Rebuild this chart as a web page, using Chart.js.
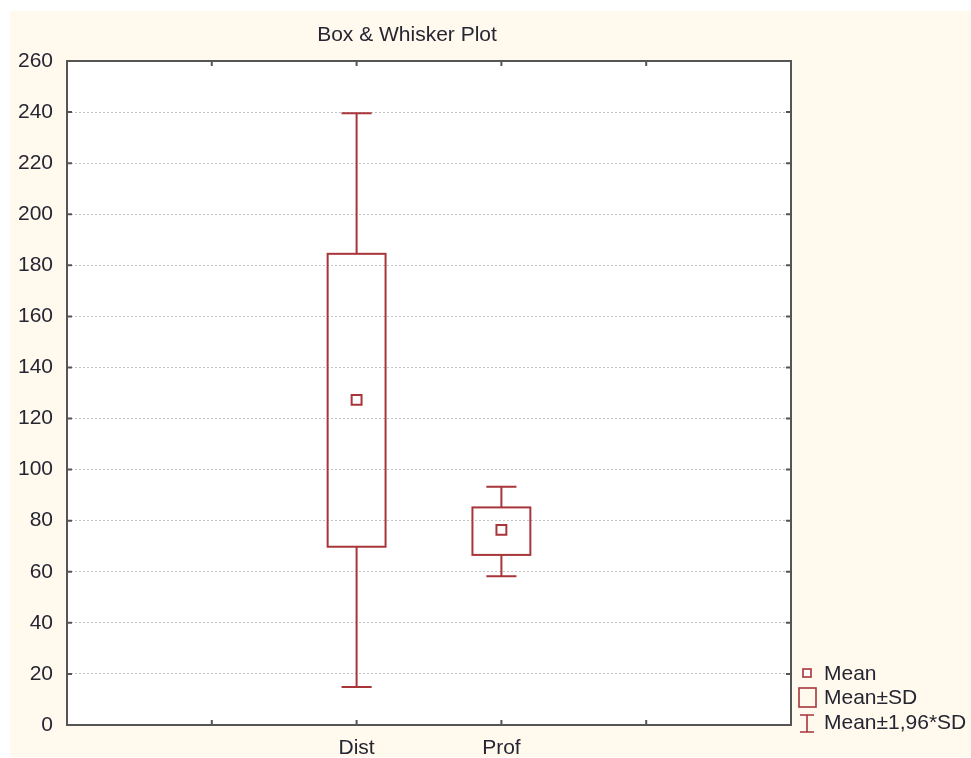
<!DOCTYPE html>
<html>
<head>
<meta charset="utf-8">
<script src="https://cdn.jsdelivr.net/npm/chart.js@4.4.1/dist/chart.umd.min.js"></script>
<style>
  html, body { margin: 0; padding: 0; background: #ffffff; }
  #wrap { width: 971px; height: 758px; position: relative; }
</style>
</head>
<body>
<div id="wrap"><canvas id="c" width="971" height="758"></canvas></div>
<script>
// ---- Data ----
const categories = ["Dist", "Prof"];
const categoryPositions = [2, 3];
const means = [127.3, 76.4];
const sdLow = [69.8, 66.6];
const sdHigh = [184.5, 85.2];
const ci196Low = [14.9, 58.2];
const ci196High = [239.5, 93.3];
const yTicks = [0, 20, 40, 60, 80, 100, 120, 140, 160, 180, 200, 220, 240, 260];
const xTickPositions = [1, 2, 3, 4];
const legendLabels = ["Mean", "Mean\u00B1SD", "Mean\u00B11,96*SD"];
const titleText = "Box & Whisker Plot";

const RED = "#a8353a";
const TEXT = "#262633";
const AXIS = "#555555";
const CREAM = "#fff9ee";
const FONT = "'Liberation Sans', Arial, sans-serif";
const FS = 21;

const xLabelFor = v => {
  const i = categoryPositions.indexOf(v);
  return i >= 0 ? categories[i] : "";
};

const decor = {
  id: "decor",
  beforeDraw(chart) {
    const ctx = chart.ctx;
    ctx.save();
    ctx.fillStyle = CREAM;
    ctx.fillRect(10, 11, chart.width - 10, chart.height - 12);
    const a = chart.chartArea;
    ctx.fillStyle = "#ffffff";
    ctx.fillRect(a.left, a.top, a.right - a.left, a.bottom - a.top);
    ctx.restore();
  },
  afterDatasetsDraw(chart) {
    const ctx = chart.ctx;
    const xs = chart.scales.x, ys = chart.scales.y;
    const a = chart.chartArea;
    ctx.save();
    // boxes and whiskers
    ctx.strokeStyle = RED;
    ctx.lineWidth = 2;
    const boxHalf = 0.2, capHalf = 0.104;
    for (let i = 0; i < categories.length; i++) {
      const c = categoryPositions[i];
      const xc = xs.getPixelForValue(c);
      const xl = xs.getPixelForValue(c - boxHalf), xr = xs.getPixelForValue(c + boxHalf);
      const cl = xs.getPixelForValue(c - capHalf), cr = xs.getPixelForValue(c + capHalf);
      const yTop = ys.getPixelForValue(sdHigh[i]), yBot = ys.getPixelForValue(sdLow[i]);
      const wTop = ys.getPixelForValue(ci196High[i]), wBot = ys.getPixelForValue(ci196Low[i]);
      ctx.strokeRect(xl, yTop, xr - xl, yBot - yTop);
      ctx.beginPath();
      ctx.moveTo(xc, yTop); ctx.lineTo(xc, wTop);
      ctx.moveTo(cl, wTop); ctx.lineTo(cr, wTop);
      ctx.moveTo(xc, yBot); ctx.lineTo(xc, wBot);
      ctx.moveTo(cl, wBot); ctx.lineTo(cr, wBot);
      ctx.stroke();
    }
    // mean markers on top
    ctx.fillStyle = "#ffffff";
    // frame
    ctx.strokeStyle = AXIS;
    ctx.lineWidth = 2;
    ctx.strokeRect(a.left, a.top, a.right - a.left, a.bottom - a.top);
    // inward ticks
    ctx.beginPath();
    const tl = 5;
    yTicks.forEach(v => {
      const y = ys.getPixelForValue(v);
      ctx.moveTo(a.left, y); ctx.lineTo(a.left + tl, y);
      ctx.moveTo(a.right, y); ctx.lineTo(a.right - tl, y);
    });
    xTickPositions.forEach(v => {
      const x = xs.getPixelForValue(v);
      ctx.moveTo(x, a.top); ctx.lineTo(x, a.top + tl);
      ctx.moveTo(x, a.bottom); ctx.lineTo(x, a.bottom - tl);
    });
    ctx.stroke();

    // title
    ctx.fillStyle = TEXT;
    ctx.font = FS + "px " + FONT;
    ctx.textAlign = "center";
    ctx.textBaseline = "middle";
    ctx.fillText(titleText, 407, 35);

    // legend
    const lx = a.right + 16, ty = [673, 697, 722];
    ctx.strokeStyle = RED;
    ctx.lineWidth = 1.6;
    ctx.fillStyle = "#ffffff";
    ctx.fillRect(lx - 4, ty[0] - 4, 8, 8);
    ctx.strokeRect(lx - 4, ty[0] - 4, 8, 8);
    ctx.strokeRect(lx - 8, ty[1] - 9, 17, 19);
    ctx.beginPath();
    ctx.moveTo(lx, ty[2] - 7); ctx.lineTo(lx, ty[2] + 10);
    ctx.moveTo(lx - 7, ty[2] - 7); ctx.lineTo(lx + 7, ty[2] - 7);
    ctx.moveTo(lx - 7, ty[2] + 10); ctx.lineTo(lx + 7, ty[2] + 10);
    ctx.stroke();
    ctx.fillStyle = TEXT;
    ctx.textAlign = "left";
    legendLabels.forEach((t, i) => ctx.fillText(t, a.right + 33, ty[i] + 1));
    ctx.restore();
  }
};

new Chart(document.getElementById("c"), {
  type: "scatter",
  data: {
    datasets: [{
      label: "Mean",
      data: categories.map((c, i) => ({ x: categoryPositions[i], y: means[i] })),
      pointStyle: "rect",
      pointRadius: 7,
      pointBorderWidth: 2,
      pointBorderColor: RED,
      pointBackgroundColor: "#ffffff"
    }]
  },
  options: {
    responsive: false,
    animation: false,
    layout: { padding: { left: 10, top: 61, right: 180, bottom: 0 } },
    plugins: { legend: { display: false }, tooltip: { enabled: false }, title: { display: false } },
    scales: {
      x: {
        type: "linear",
        min: 0, max: 5,
        afterBuildTicks: s => { s.ticks = xTickPositions.map(v => ({ value: v })); },
        afterFit: s => { s.height = 33; },
        grid: { display: false, drawTicks: false },
        border: { display: false },
        ticks: {
          autoSkip: false,
          maxRotation: 0,
          padding: 11,
          color: TEXT,
          font: { size: FS, family: FONT },
          callback: v => xLabelFor(v)
        }
      },
      y: {
        min: 0, max: 260,
        afterBuildTicks: s => { s.ticks = yTicks.map(v => ({ value: v })); },
        afterFit: s => { s.width = 57; },
        grid: { color: "#c4c4c4", lineWidth: 1, drawTicks: false },
        border: { display: false, dash: [2, 2] },
        ticks: {
          padding: 14,
          color: TEXT,
          font: { size: FS, family: FONT }
        }
      }
    }
  },
  plugins: [decor]
});
</script>
</body>
</html>
